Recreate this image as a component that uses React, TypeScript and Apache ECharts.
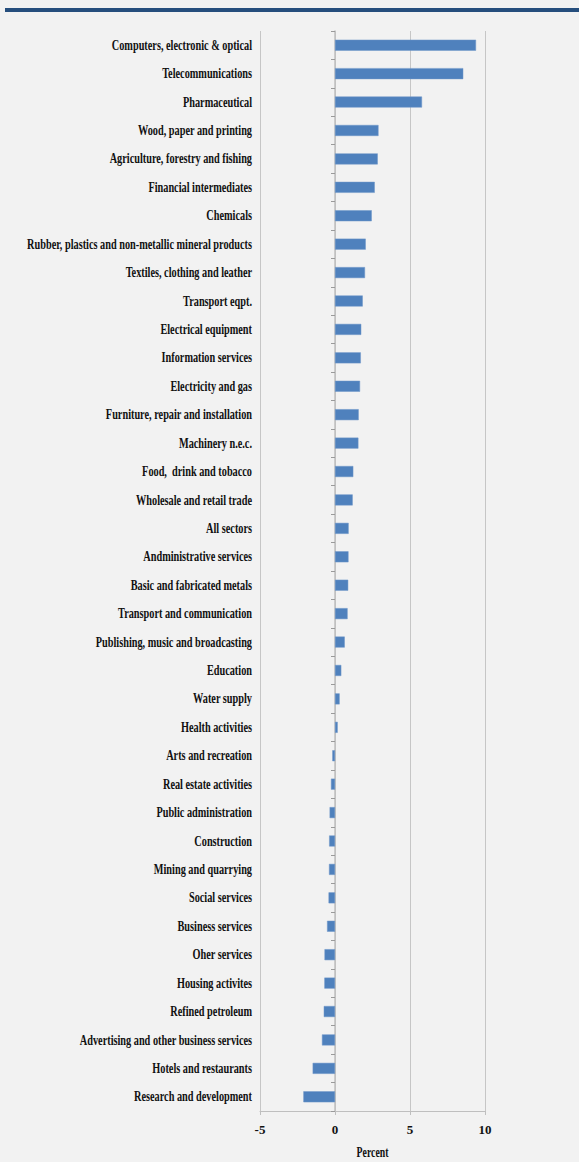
import React, { useEffect, useRef } from "react";
import * as echarts from "echarts";

const categories: string[] = [
  "Computers, electronic & optical",
  "Telecommunications",
  "Pharmaceutical",
  "Wood, paper and printing",
  "Agriculture, forestry and fishing",
  "Financial intermediates",
  "Chemicals",
  "Rubber, plastics and non-metallic mineral products",
  "Textiles, clothing and leather",
  "Transport eqpt.",
  "Electrical equipment",
  "Information services",
  "Electricity and gas",
  "Furniture, repair and installation",
  "Machinery n.e.c.",
  "Food,  drink and tobacco",
  "Wholesale and retail trade",
  "All sectors",
  "Andministrative services",
  "Basic and fabricated metals",
  "Transport and communication",
  "Publishing, music and broadcasting",
  "Education",
  "Water supply",
  "Health activities",
  "Arts and recreation",
  "Real estate activities",
  "Public administration",
  "Construction",
  "Mining and quarrying",
  "Social services",
  "Business services",
  "Oher services",
  "Housing activites",
  "Refined petroleum",
  "Advertising and other business services",
  "Hotels and restaurants",
  "Research and development",
];

const values: number[] = [
  9.4, 8.55, 5.8, 2.9, 2.85, 2.65, 2.45, 2.05, 2.0, 1.85, 1.75, 1.72, 1.67,
  1.58, 1.56, 1.22, 1.18, 0.91, 0.9, 0.88, 0.84, 0.65, 0.42, 0.31, 0.18,
  -0.18, -0.27, -0.36, -0.39, -0.4, -0.43, -0.53, -0.7, -0.71, -0.75, -0.87,
  -1.49, -2.11,
];

const xAxisName = "Percent";
const xMin = -5;
const xMax = 10;
const xInterval = 5;

export default function App() {
  const ref = useRef<HTMLDivElement>(null);

  useEffect(() => {
    if (!ref.current) return;
    const chart = echarts.init(ref.current, null, { renderer: "svg" });
    chart.setOption({
      animation: false,
      backgroundColor: "#F2F2F2",
      grid: { left: 260, right: 94, top: 31, bottom: 51, containLabel: false },
      xAxis: {
        type: "value",
        min: xMin,
        max: xMax,
        interval: xInterval,
        axisLine: { show: true, lineStyle: { color: "#BFBFBF", width: 1 } },
        axisTick: { show: true, length: 4, lineStyle: { color: "#BFBFBF" } },
        splitLine: { show: true, lineStyle: { color: "#C6C6C6", width: 1 } },
        axisLabel: {
          color: "#111",
          fontFamily: "Liberation Serif",
          fontWeight: "bold",
          fontSize: 13,
          margin: 12,
        },
      },
      yAxis: {
        type: "category",
        data: categories,
        inverse: true,
        axisLine: { show: true, onZero: true, lineStyle: { color: "#BFBFBF", width: 1.5 } },
        axisTick: { show: true, length: 4, inside: false, lineStyle: { color: "#9A9A9A" } },
        axisLabel: { show: false },
        splitLine: { show: false },
      },
      series: [
        {
          type: "bar",
          data: values,
          barWidth: 11,
          itemStyle: { color: "#4F81BD", borderColor: "#6F97C9", borderWidth: 0.5 },
        },
      ],
    });

    const graphics: any[] = [
      {
        type: "rect",
        shape: { x: 5, y: 8, width: 574, height: 4 },
        style: { fill: "#264E7D" },
        silent: true,
      },
    ];
    categories.forEach((c) => {
      const y = chart.convertToPixel({ yAxisIndex: 0 }, c) as number;
      graphics.push({
        type: "text",
        x: 252,
        y: y,
        scaleX: 0.735,
        style: {
          text: c,
          fill: "#111",
          font: "bold 14px 'Liberation Serif'",
          textAlign: "right",
          textVerticalAlign: "middle",
        },
        silent: true,
      });
    });
    const cx = chart.convertToPixel({ xAxisIndex: 0 }, (xMin + xMax) / 2) as number;
    graphics.push({
      type: "text",
      x: cx,
      y: 1152,
      scaleX: 0.7,
      style: {
        text: xAxisName,
        fill: "#111",
        font: "bold 14px 'Liberation Serif'",
        textAlign: "center",
        textVerticalAlign: "middle",
      },
      silent: true,
    });
    chart.setOption({ graphic: graphics });

    return () => chart.dispose();
  }, []);

  return (
    <div
      ref={ref}
      style={{ position: "absolute", left: 0, top: 0, width: 579, height: 1162 }}
    />
  );
}
